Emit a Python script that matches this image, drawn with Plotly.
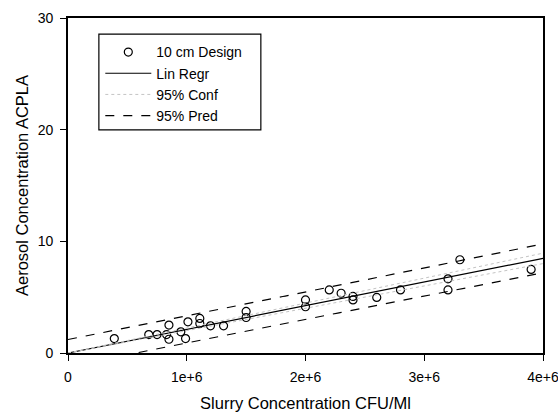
import numpy as np
import plotly.graph_objects as go

# Slurry concentration (CFU/ml) and measured aerosol concentration (ACPLA)
slurry = [0.39e6, 0.68e6, 0.75e6, 0.83e6, 0.85e6, 0.85e6, 0.95e6, 0.99e6, 1.01e6,
          1.11e6, 1.11e6, 1.20e6, 1.31e6, 1.50e6, 1.50e6, 2.00e6, 2.00e6, 2.20e6,
          2.30e6, 2.40e6, 2.40e6, 2.60e6, 2.80e6, 3.20e6, 3.20e6, 3.30e6, 3.90e6]
aerosol = [1.29, 1.65, 1.65, 1.65, 2.50, 1.23, 1.90, 1.29, 2.79,
           3.10, 2.64, 2.43, 2.43, 3.72, 3.18, 4.75, 4.14, 5.65,
           5.35, 5.07, 4.75, 4.98, 5.65, 6.64, 5.65, 8.35, 7.48]

x_ticks = [0, 1e6, 2e6, 3e6, 4e6]
x_tick_text = ["0", "1e+6", "2e+6", "3e+6", "4e+6"]
y_ticks = [0, 10, 20, 30]

# Least squares line through the origin, with 95% confidence and prediction bands
xa = np.array(slurry)
ya = np.array(aerosol)
n = len(xa)
sxx = np.sum(xa ** 2)
slope = np.sum(xa * ya) / sxx
resid = ya - slope * xa
s = np.sqrt(np.sum(resid ** 2) / (n - 1))
t975 = 2.056  # Student t, 26 degrees of freedom

xf = np.linspace(0, 4e6, 200)
yf = slope * xf
se_mean = s * np.sqrt(xf ** 2 / sxx)
se_pred = s * np.sqrt(1 + xf ** 2 / sxx)

fig = go.Figure()
fig.add_trace(go.Scatter(
    x=slurry, y=aerosol, mode="markers", name="10 cm Design",
    marker=dict(symbol="circle-open", size=8, color="black", line=dict(width=1.2)),
))
fig.add_trace(go.Scatter(
    x=xf, y=yf, mode="lines", name="Lin Regr",
    line=dict(color="black", width=1.2),
))
fig.add_trace(go.Scatter(
    x=xf, y=yf + t975 * se_mean, mode="lines", name="95% Conf",
    line=dict(color="#c4c4c4", width=1, dash="dot"),
))
fig.add_trace(go.Scatter(
    x=xf, y=yf - t975 * se_mean, mode="lines", showlegend=False,
    line=dict(color="#c4c4c4", width=1, dash="dot"),
))
fig.add_trace(go.Scatter(
    x=xf, y=yf + t975 * se_pred, mode="lines", name="95% Pred",
    line=dict(color="black", width=1.2, dash="dash"),
))
fig.add_trace(go.Scatter(
    x=xf, y=yf - t975 * se_pred, mode="lines", showlegend=False,
    line=dict(color="black", width=1.2, dash="dash"),
))

axis_common = dict(
    showgrid=False, zeroline=False, showline=True, linecolor="black",
    linewidth=1.6, mirror=True, ticks="outside", ticklen=6, tickwidth=1.2,
    tickcolor="black", tickfont=dict(size=14, color="black"),
    automargin=False, ticklabeloverflow="allow",
)
fig.update_xaxes(
    range=[0, 4e6], tickvals=x_ticks, ticktext=x_tick_text,
    ticklabelstandoff=4,
    title=dict(text="Slurry Concentration CFU/Ml", font=dict(size=16.5, color="black"),
               standoff=14),
    **axis_common,
)
fig.update_yaxes(
    range=[0, 30], tickvals=y_ticks, ticklabelstandoff=4,
    title=dict(text="Aerosol Concentration ACPLA", font=dict(size=16.5, color="black"),
               standoff=5),
    **axis_common,
)

# Frame around the legend entries
fig.add_shape(
    type="rect", xref="paper", yref="paper",
    x0=0.065, x1=0.406, y0=0.666, y1=0.952,
    line=dict(color="black", width=1.2), fillcolor="white", layer="below",
)

fig.update_layout(
    width=558, height=415,
    margin=dict(l=68, r=15, t=18, b=62),
    paper_bgcolor="white", plot_bgcolor="white",
    font=dict(family="Liberation Sans, Arial, sans-serif", color="black"),
    legend=dict(
        x=0.068, y=0.945, xanchor="left", yanchor="top",
        borderwidth=0, bgcolor="rgba(0,0,0,0)",
        font=dict(size=14), itemwidth=46, tracegroupgap=0,
    ),
)

fig.write_html("out.html")
